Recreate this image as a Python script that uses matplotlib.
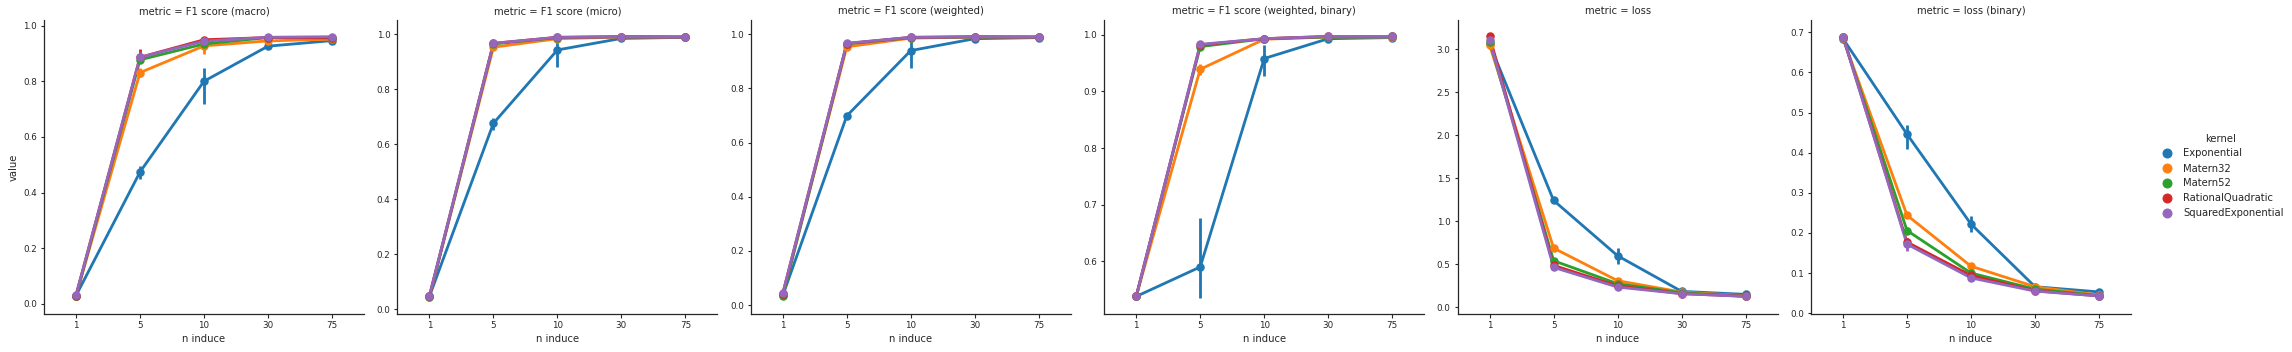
import numpy as np
import matplotlib
matplotlib.use("Agg")
import matplotlib.pyplot as plt
from matplotlib.lines import Line2D

# categories
n_induce = ["1", "5", "10", "30", "75"]
kernels = ["Exponential", "Matern32", "Matern52", "RationalQuadratic", "SquaredExponential"]
colors = ["#1f77b4", "#ff7f0e", "#2ca02c", "#d62728", "#9467bd"]
metrics = ["F1 score (macro)", "F1 score (micro)", "F1 score (weighted)",
           "F1 score (weighted, binary)", "loss", "loss (binary)"]

# mean values, one row per kernel
f1_macro = [[0.030, 0.474, 0.800, 0.926, 0.946],
            [0.030, 0.831, 0.927, 0.945, 0.951],
            [0.028, 0.877, 0.934, 0.957, 0.955],
            [0.030, 0.886, 0.949, 0.957, 0.957],
            [0.032, 0.886, 0.944, 0.958, 0.960]]
f1_micro = [[0.046, 0.676, 0.943, 0.985, 0.989],
            [0.045, 0.953, 0.984, 0.990, 0.990],
            [0.043, 0.965, 0.988, 0.991, 0.990],
            [0.046, 0.967, 0.989, 0.991, 0.990],
            [0.048, 0.967, 0.989, 0.991, 0.990]]
f1_weighted = [[0.036, 0.699, 0.940, 0.984, 0.988],
               [0.040, 0.954, 0.986, 0.990, 0.990],
               [0.032, 0.965, 0.988, 0.990, 0.990],
               [0.042, 0.966, 0.989, 0.991, 0.990],
               [0.044, 0.967, 0.989, 0.991, 0.990]]
f1_weighted_bin = [[0.538, 0.590, 0.958, 0.993, 0.995],
                   [0.538, 0.939, 0.992, 0.996, 0.996],
                   [0.538, 0.979, 0.993, 0.996, 0.997],
                   [0.538, 0.982, 0.993, 0.997, 0.997],
                   [0.538, 0.983, 0.993, 0.997, 0.997]]
loss = [[3.06, 1.243, 0.600, 0.186, 0.151],
        [3.05, 0.689, 0.310, 0.178, 0.135],
        [3.09, 0.542, 0.275, 0.170, 0.130],
        [3.15, 0.488, 0.250, 0.160, 0.129],
        [3.11, 0.465, 0.236, 0.159, 0.128]]
loss_bin = [[0.684, 0.446, 0.222, 0.066, 0.053],
            [0.685, 0.244, 0.117, 0.066, 0.045],
            [0.687, 0.206, 0.100, 0.060, 0.044],
            [0.689, 0.177, 0.094, 0.056, 0.043],
            [0.689, 0.172, 0.088, 0.055, 0.043]]

# confidence interval offsets below / above the mean
f1_macro_lo = [[0.005, 0.025, 0.082, 0.008, 0.005], [0.005, 0.017, 0.030, 0.005, 0.004],
               [0.004, 0.012, 0.015, 0.004, 0.004], [0.004, 0.020, 0.010, 0.004, 0.004],
               [0.004, 0.020, 0.010, 0.004, 0.004]]
f1_macro_hi = [[0.005, 0.020, 0.047, 0.008, 0.005], [0.005, 0.015, 0.010, 0.005, 0.004],
               [0.004, 0.012, 0.010, 0.004, 0.004], [0.004, 0.030, 0.010, 0.004, 0.004],
               [0.004, 0.020, 0.010, 0.004, 0.004]]
f1_micro_lo = [[0.004, 0.025, 0.063, 0.004, 0.002], [0.004, 0.010, 0.004, 0.002, 0.002],
               [0.004, 0.005, 0.003, 0.002, 0.002], [0.004, 0.005, 0.003, 0.002, 0.002],
               [0.004, 0.005, 0.003, 0.002, 0.002]]
f1_micro_hi = [[0.004, 0.018, 0.042, 0.004, 0.002], [0.004, 0.010, 0.004, 0.002, 0.002],
               [0.004, 0.005, 0.003, 0.002, 0.002], [0.004, 0.005, 0.003, 0.002, 0.002],
               [0.004, 0.005, 0.003, 0.002, 0.002]]
f1_weighted_lo = [[0.005, 0.012, 0.063, 0.004, 0.002], [0.005, 0.010, 0.004, 0.002, 0.002],
                  [0.005, 0.005, 0.003, 0.002, 0.002], [0.005, 0.005, 0.003, 0.002, 0.002],
                  [0.005, 0.005, 0.003, 0.002, 0.002]]
f1_weighted_hi = [[0.005, 0.010, 0.045, 0.004, 0.002], [0.005, 0.010, 0.004, 0.002, 0.002],
                  [0.005, 0.005, 0.003, 0.002, 0.002], [0.005, 0.005, 0.003, 0.002, 0.002],
                  [0.005, 0.005, 0.003, 0.002, 0.002]]
f1_weighted_bin_lo = [[0.001, 0.055, 0.030, 0.005, 0.002], [0.001, 0.010, 0.003, 0.002, 0.002],
                      [0.001, 0.005, 0.002, 0.002, 0.001], [0.001, 0.004, 0.002, 0.002, 0.001],
                      [0.001, 0.004, 0.002, 0.002, 0.001]]
f1_weighted_bin_hi = [[0.001, 0.086, 0.024, 0.003, 0.002], [0.001, 0.010, 0.003, 0.002, 0.002],
                      [0.001, 0.005, 0.002, 0.002, 0.001], [0.001, 0.004, 0.002, 0.002, 0.001],
                      [0.001, 0.004, 0.002, 0.002, 0.001]]
loss_lo = [[0.03, 0.02, 0.09, 0.01, 0.01], [0.03, 0.02, 0.02, 0.01, 0.01],
           [0.03, 0.02, 0.02, 0.01, 0.01], [0.03, 0.02, 0.02, 0.01, 0.01],
           [0.03, 0.02, 0.02, 0.01, 0.01]]
loss_hi = loss_lo
loss_bin_lo = [[0.004, 0.038, 0.020, 0.003, 0.003], [0.004, 0.008, 0.005, 0.003, 0.002],
               [0.004, 0.008, 0.004, 0.003, 0.002], [0.004, 0.010, 0.004, 0.003, 0.002],
               [0.004, 0.016, 0.004, 0.003, 0.002]]
loss_bin_hi = [[0.004, 0.023, 0.020, 0.003, 0.003], [0.004, 0.008, 0.005, 0.003, 0.002],
               [0.004, 0.008, 0.004, 0.003, 0.002], [0.004, 0.010, 0.004, 0.003, 0.002],
               [0.004, 0.015, 0.004, 0.003, 0.002]]

panels = [
    (f1_macro, f1_macro_lo, f1_macro_hi, (-0.036, 1.020)),
    (f1_micro, f1_micro_lo, f1_micro_hi, (-0.018, 1.052)),
    (f1_weighted, f1_weighted_lo, f1_weighted_hi, (-0.033, 1.053)),
    (f1_weighted_bin, f1_weighted_bin_lo, f1_weighted_bin_hi, (0.507, 1.026)),
    (loss, loss_lo, loss_hi, (-0.077, 3.341)),
    (loss_bin, loss_bin_lo, loss_bin_hi, (-0.002, 0.7305)),
]

plt.rcParams.update({
    "font.family": "DejaVu Sans",
    "axes.edgecolor": "#262626",
    "axes.linewidth": 1.25,
    "xtick.color": "#262626",
    "ytick.color": "#262626",
    "text.color": "#262626",
    "axes.labelcolor": "#262626",
    "xtick.labelsize": 8.8,
    "ytick.labelsize": 8.8,
    "xtick.major.size": 3.5,
    "ytick.major.size": 3.5,
    "xtick.major.width": 1.1,
    "ytick.major.width": 1.1,
})

W, H = 2292, 352
fig = plt.figure(figsize=(W / 72, H / 72), dpi=72)

lw = 2.8
x = np.arange(len(n_induce))
for i, (means, lo, hi, ylim) in enumerate(panels):
    left = 44 + 353.4 * i
    ax = fig.add_axes([left / W, (H - 314) / H, 320 / W, 294 / H])
    for k, kern in enumerate(kernels):
        m = np.array(means[k])
        ax.plot(x, m, color=colors[k], lw=lw, zorder=2)
        ax.vlines(x, m - np.array(lo[k]), m + np.array(hi[k]), color=colors[k], lw=lw, zorder=2)
        ax.scatter(x, m, s=72, color=colors[k], linewidths=0, zorder=100)
    ax.set_xlim(-0.5, len(n_induce) - 0.5)
    ax.set_ylim(*ylim)
    ax.set_xticks(x)
    ax.set_xticklabels(n_induce)
    ax.spines["top"].set_visible(False)
    ax.spines["right"].set_visible(False)
    ax.set_title("metric = " + metrics[i], fontsize=10)
    ax.set_xlabel("n induce", fontsize=10)
    if i == 0:
        ax.set_ylabel("value", fontsize=10)

handles = [Line2D([], [], marker="o", ls="", color=c, markersize=9) for c in colors]
fig.legend(handles, kernels, title="kernel", loc="center left",
           bbox_to_anchor=(2148 / W, 0.50), frameon=False, fontsize=10,
           title_fontsize=10, handletextpad=0.6, labelspacing=0.5)

fig.savefig("out.png", dpi=72)
